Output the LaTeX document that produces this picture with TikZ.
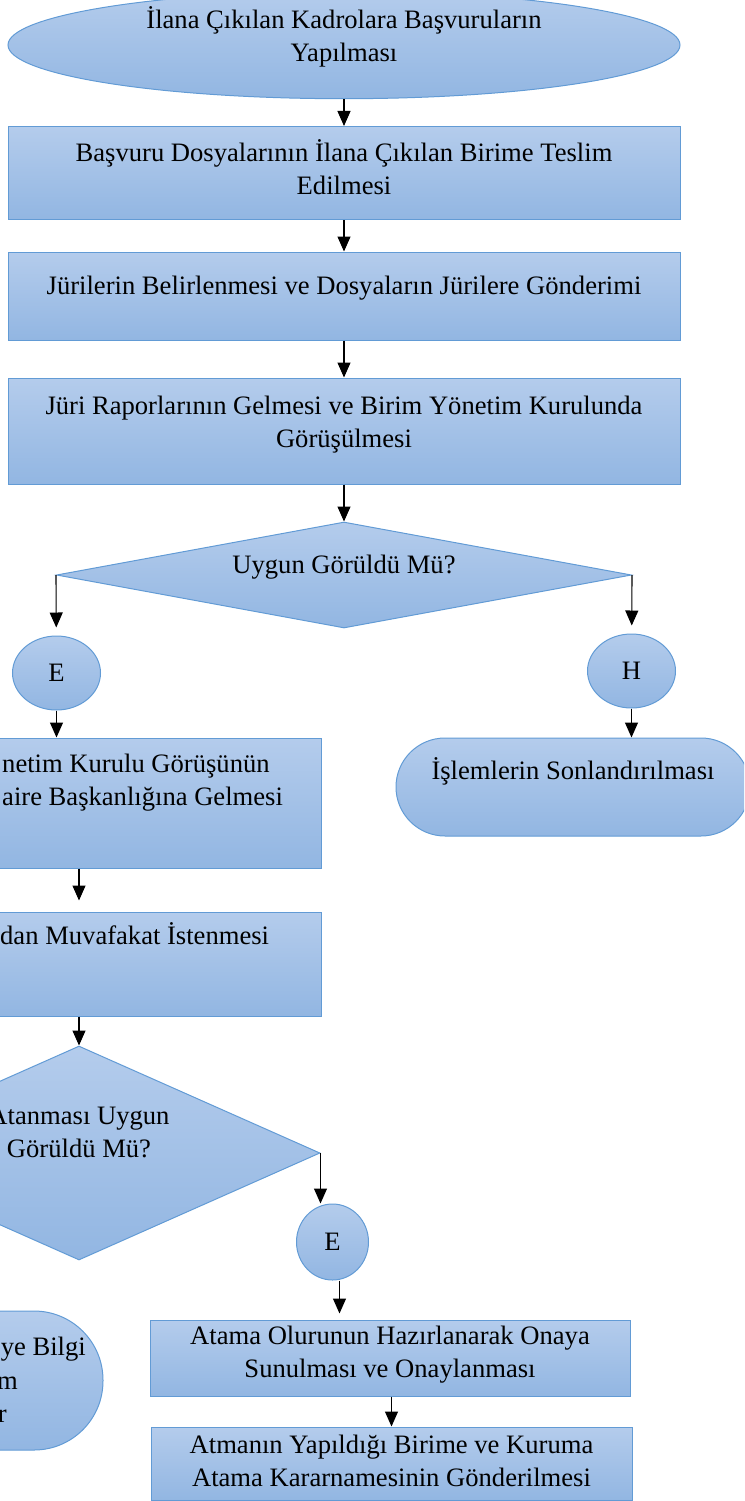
\documentclass[tikz,border=0pt]{standalone}
\usepackage{fontspec}
\setmainfont{Liberation Serif}
\usetikzlibrary{arrows.meta,shapes.geometric}
\definecolor{kenar}{RGB}{98,155,213}
\definecolor{ustrenk}{RGB}{180,204,236}
\definecolor{altrenk}{RGB}{146,182,226}
\tikzset{
  sekil/.style={draw=kenar, line width=1pt, top color=ustrenk, bottom color=altrenk,
    align=center, inner sep=0pt, font=\fontsize{26.6}{33}\selectfont},
  kutu/.style={sekil, rectangle},
  elips/.style={sekil, ellipse},
  soru/.style={sekil, diamond},
  uc/.style={sekil, rectangle, rounded corners=#1},
  yazi/.style={inner sep=0pt, align=left, font=\fontsize{26.6}{33}\selectfont},
  ok/.style={-{Triangle[length=15pt,width=13pt]}, line width=1.1pt}
}
\begin{document}
\begin{tikzpicture}[x=1pt,y=-1pt]
	\useasboundingbox (0,0) rectangle (744,1501);
	\clip (0,0) rectangle (744,1501);

	\node[elips, minimum width=672, minimum height=104, text depth=21pt] (basvuru) at (344,45) {İlana Çıkılan Kadrolara Başvuruların\\Yapılması};
	\node[kutu, minimum width=672, minimum height=93, text depth=12pt] (teslim) at (344,173) {Başvuru Dosyalarının İlana Çıkılan Birime Teslim\\Edilmesi};
	\node[kutu, minimum width=672, minimum height=88, text depth=21pt] (juri) at (344,296) {Jürilerin Belirlenmesi ve Dosyaların Jürilere Gönderimi};
	\node[kutu, minimum width=672, minimum height=106, text depth=19pt] (rapor) at (344,431) {Jüri Raporlarının Gelmesi ve Birim Yönetim Kurulunda\\Görüşülmesi};
	\node[soru, shape aspect=5.42, minimum width=575, minimum height=106, text depth=21pt] (karar) at (344,575) {Uygun Görüldü Mü?};

	\node[elips, minimum width=88, minimum height=74] (evet1) at (56.5,673) {E};
	\node[elips, minimum width=88, minimum height=74] (hayir) at (631.5,671) {H};

	\node[kutu, minimum width=484, minimum height=130] (yonetim) at (79,803) {};
	\node[yazi, anchor=base west] (yonetimyazi) at (2,805) {netim Kurulu Görüşünün\\aire Başkanlığına Gelmesi};
	\node[uc=49pt, minimum width=354, minimum height=98, text depth=4pt] (sonlandir) at (573,787) {İşlemlerin Sonlandırılması\\~};

	\node[kutu, minimum width=484, minimum height=104] (muvafakat) at (79,964) {};
	\node[yazi, anchor=base west] (muvafakatyazi) at (0,944) {dan Muvafakat İstenmesi};

	\node[soru, shape aspect=2.25, minimum width=482, minimum height=214, text depth=8pt] (atama) at (79,1153) {Atanması Uygun\\Görüldü Mü?\\~};
	\node[elips, minimum width=72, minimum height=76] (evet2) at (332.5,1242) {E};

	\node[uc=69pt, minimum width=353, minimum height=139] (bilgi) at (-73.5,1380.5) {};
	\node[yazi, anchor=base east] (bilgi1) at (86,1355) {ye Bilgi};
	\node[yazi, anchor=base east] (bilgi2) at (18,1389) {m};
	\node[yazi, anchor=base east] (bilgi3) at (7,1422) {r};

	\node[kutu, minimum width=480, minimum height=76, text depth=13pt] (olur) at (390,1358) {Atama Olurunun Hazırlanarak Onaya\\Sunulması ve Onaylanması};
	\node[kutu, minimum width=481, minimum height=73, text depth=6pt] (kararname) at (391.5,1463.5) {Atmanın Yapıldığı Birime ve Kuruma\\Atama Kararnamesinin Gönderilmesi};

	\draw[ok] (basvuru) -- (teslim);
	\draw[ok] (teslim) -- (juri);
	\draw[ok] (juri) -- (rapor);
	\draw[ok] (rapor) -- (karar);
	\draw[ok, shorten >=8pt] (karar.west) -- (evet1);
	\draw[ok, shorten >=8pt] (karar.east) -- (hayir);
	\draw[ok] (evet1) -- (evet1 |- yonetim.north);
	\draw[ok] (hayir) -- (hayir |- sonlandir.north);
	\draw[ok, shorten >=11pt] (yonetim) -- (muvafakat);
	\draw[ok] (muvafakat) -- (atama);
	\draw[ok] (atama.east) -- (atama.east |- evet2.north);
	\draw[ok, shorten >=6pt] ([xshift=7pt]evet2.south) -- ([xshift=7pt]evet2.south |- olur.north);
	\draw[ok] (olur.south -| kararname.north) -- (kararname);
\end{tikzpicture}
\end{document}
